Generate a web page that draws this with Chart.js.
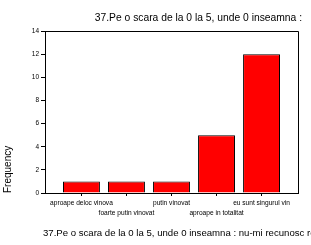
<!DOCTYPE html>
<html>
<head>
<meta charset="utf-8">
<script src="https://cdn.jsdelivr.net/npm/chart.js@4/dist/chart.umd.min.js"></script>
<style>
  html, body { margin: 0; padding: 0; background: #ffffff; }
  #wrap { width: 311px; height: 245px; position: relative; }
</style>
</head>
<body>
<div id="wrap"><canvas id="c" width="311" height="245"></canvas></div>
<script>
const chartTitle = "37.Pe o scara de la 0 la 5, unde 0 inseamna :";
const xAxisTitle = "37.Pe o scara de la 0 la 5, unde 0 inseamna : nu-mi recunosc responsabilitatea";
const yAxisTitle = "Frequency";
const categories = ["aproape deloc vinova", "foarte putin vinovat", "putin vinovat", "aproape in totalitat", "eu sunt singurul vin"];
const frequencies = [1, 1, 1, 5, 12];
const yMin = 0, yMax = 14, yStep = 2;

const FONT = "'Liberation Sans', Arial, sans-serif";

const textPlugin = {
  id: 'texts',
  afterDraw(chart) {
    const ctx = chart.ctx;
    const a = chart.chartArea;
    ctx.save();
    // frame top & right
    ctx.strokeStyle = '#000';
    ctx.lineWidth = 1;
    ctx.beginPath();
    ctx.moveTo(Math.round(a.left) + 0.5, Math.round(a.top) + 0.5);
    ctx.lineTo(Math.round(a.right) + 0.5, Math.round(a.top) + 0.5);
    ctx.lineTo(Math.round(a.right) + 0.5, Math.round(a.bottom) + 0.5);
    ctx.stroke();
    ctx.fillStyle = '#000';
    ctx.textBaseline = 'middle';
    ctx.font = "10.3px " + FONT;
    ctx.textAlign = 'right';
    ctx.fillText(chartTitle, 302, 18);
    ctx.font = "9.6px " + FONT;
    ctx.textAlign = 'left';
    ctx.fillText(xAxisTitle, 43, 233);
    ctx.restore();
  }
};

new Chart(document.getElementById('c'), {
  type: 'bar',
  data: {
    datasets: [{
      data: frequencies.map((v, i) => ({ x: i, y: v })),
      backgroundColor: '#ff0000',
      borderColor: '#000000',
      borderWidth: 1,
      categoryPercentage: 1.0,
      barPercentage: 0.82
    }]
  },
  options: {
    responsive: false,
    animation: false,
    devicePixelRatio: 1,
    layout: { padding: { top: 31, right: 13, bottom: 0, left: 0 } },
    plugins: {
      legend: { display: false },
      title: { display: false },
      tooltip: { enabled: false }
    },
    scales: {
      x: {
        type: 'linear',
        offset: false,
        min: -0.81,
        max: categories.length - 1 + 0.81,
        afterBuildTicks(scale) {
          scale.ticks = categories.map((_, i) => ({ value: i }));
        },
        afterFit(scale) { scale.height = 52; },
        grid: { drawOnChartArea: false, tickLength: 3, color: '#000', offset: false },
        border: { display: true, color: '#000', width: 1 },
        ticks: {
          autoSkip: false,
          maxRotation: 0,
          minRotation: 0,
          padding: 2,
          color: '#000',
          font: { size: 6.6, family: FONT, lineHeight: 1.5 },
          callback(value) {
            const i = Math.round(value);
            const lab = categories[i];
            return i % 2 === 1 ? ['', lab] : lab;
          }
        }
      },
      y: {
        min: yMin,
        max: yMax,
        afterFit(scale) { scale.width = 45; },
        grid: { drawOnChartArea: false, tickLength: 4, color: '#000' },
        border: { display: true, color: '#000', width: 1 },
        ticks: {
          stepSize: yStep,
          padding: 2,
          color: '#000',
          font: { size: 6.5, family: FONT }
        },
        title: {
          display: true,
          text: yAxisTitle,
          align: 'start',
          color: '#000',
          font: { size: 10, family: FONT },
          padding: { top: 2, bottom: 0 }
        }
      }
    }
  },
  plugins: [textPlugin]
});
</script>
</body>
</html>
